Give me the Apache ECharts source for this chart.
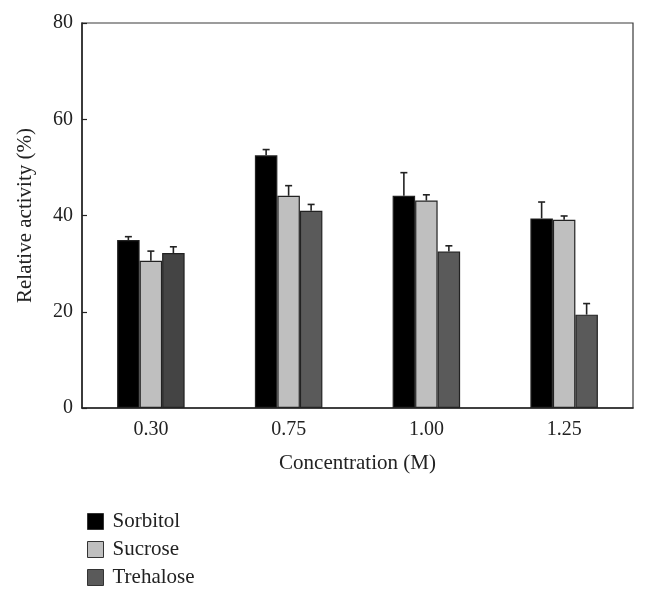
<!DOCTYPE html>
<html>
<head>
<meta charset="utf-8">
<script src="https://cdn.jsdelivr.net/npm/echarts@6/dist/echarts.min.js"></script>
<style>
html,body{margin:0;padding:0;background:#fff;}
#chart{width:647px;height:596px;}
</style>
</head>
<body>
<div id="chart"></div>
<script>
const categories = ['0.30', '0.75', '1.00', '1.25'];
const seriesNames = ['Sorbitol', 'Sucrose', 'Trehalose'];
const sorbitol = [34.9, 52.5, 44.1, 39.4];
const sucrose = [30.6, 44.1, 43.1, 39.1];
const trehalose = [32.2, 41.0, 32.5, 19.4];
const sorbitolErr = [0.7, 1.2, 4.8, 3.4];
const sucroseErr = [2.0, 2.1, 1.2, 0.8];
const trehaloseErr = [1.3, 1.3, 1.2, 2.3];
const yTicks = [0, 20, 40, 60, 80];

const values = [sorbitol, sucrose, trehalose];
const errors = [sorbitolErr, sucroseErr, trehaloseErr];
const colors = ['#000000', '#bfbfbf', '#5a5a5a'];
const BAR_W = 22.5;
const FONT = '"Liberation Serif", "Times New Roman", serif';

const chart = echarts.init(document.getElementById('chart'), null, {renderer: 'canvas'});

const barSeries = seriesNames.map((name, si) => ({
  name: name,
  type: 'bar',
  barWidth: BAR_W,
  barGap: '0%',
  itemStyle: {color: colors[si], borderColor: '#222', borderWidth: 1.2},
  data: values[si].map((v, i) => (si === 2 && i === 0) ? {value: v, itemStyle: {color: '#444444'}} : v),
  z: 2
}));

const errSeries = seriesNames.map((name, si) => ({
  type: 'custom',
  name: name + '_err',
  silent: true,
  z: 3,
  data: values[si].map((v, i) => [i, v, v + errors[si][i]]),
  renderItem: function (params, api) {
    const ci = api.value(0);
    const base = api.coord([ci, api.value(1)]);
    const top = api.coord([ci, api.value(2)]);
    const x = base[0] + (si - 1) * BAR_W;
    const cap = 3.5;
    const st = {stroke: '#222', lineWidth: 1.6};
    return {
      type: 'group',
      children: [
        {type: 'line', shape: {x1: x, y1: base[1], x2: x, y2: top[1]}, style: st},
        {type: 'line', shape: {x1: x - cap, y1: top[1], x2: x + cap, y2: top[1]}, style: st}
      ]
    };
  }
}));

chart.setOption({
  animation: false,
  backgroundColor: '#ffffff',
  textStyle: {fontFamily: FONT},
  grid: {left: 82, right: 14, top: 23, bottom: 188, show: true, borderColor: '#3a3a3a', borderWidth: 1.2},
  legend: {
    data: seriesNames,
    orient: 'vertical',
    left: 82,
    top: 506,
    itemWidth: 16,
    itemHeight: 16,
    itemGap: 7,
    icon: 'rect',
    textStyle: {fontFamily: FONT, fontSize: 21, color: '#222', padding: [0, 0, 0, 4]},
    itemStyle: {borderColor: '#333', borderWidth: 1}
  },
  xAxis: {
    type: 'category',
    data: categories,
    name: 'Concentration (M)',
    nameLocation: 'middle',
    nameGap: 45,
    nameTextStyle: {fontFamily: FONT, fontSize: 21, color: '#222'},
    axisLine: {lineStyle: {color: '#222', width: 1.5}},
    axisTick: {show: false},
    axisLabel: {fontFamily: FONT, fontSize: 20, color: '#222', margin: 12},
    splitLine: {show: false}
  },
  yAxis: {
    type: 'value',
    min: yTicks[0],
    max: yTicks[yTicks.length - 1],
    interval: yTicks[1] - yTicks[0],
    name: 'Relative activity (%)',
    nameLocation: 'middle',
    nameRotate: 90,
    nameGap: 46,
    nameTextStyle: {fontFamily: FONT, fontSize: 21, color: '#222'},
    axisLine: {show: true, lineStyle: {color: '#222', width: 1.5}},
    axisTick: {show: true, inside: true, length: 5, lineStyle: {color: '#222', width: 1.2}},
    axisLabel: {fontFamily: FONT, fontSize: 20, color: '#222', margin: 9},
    splitLine: {show: false}
  },
  series: barSeries.concat(errSeries)
});
</script>
</body>
</html>
